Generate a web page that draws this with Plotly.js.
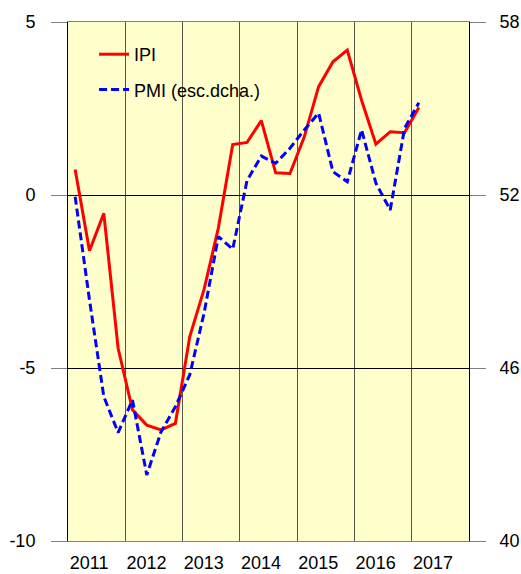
<!DOCTYPE html>
<html>
<head>
<meta charset="utf-8">
<script src="https://cdn.plot.ly/plotly-3.0.1.min.js"></script>
<style>html,body{margin:0;padding:0;background:#fff;}#chart{width:521px;height:574px;}</style>
</head>
<body>
<div id="chart"></div>
<script>
// Quarterly periods (2011-T1 ... 2017-T1)
var years = [2011, 2012, 2013, 2014, 2015, 2016, 2017];
var quarters = ['2011-T1','2011-T2','2011-T3','2011-T4',
                '2012-T1','2012-T2','2012-T3','2012-T4',
                '2013-T1','2013-T2','2013-T3','2013-T4',
                '2014-T1','2014-T2','2014-T3','2014-T4',
                '2015-T1','2015-T2','2015-T3','2015-T4',
                '2016-T1','2016-T2','2016-T3','2016-T4',
                '2017-T1'];
// IPI (left axis)
var ipi = [0.74, -1.61, -0.53, -4.43,
           -6.21, -6.65, -6.79, -6.60,
           -4.10, -2.73, -0.95, 1.46,
           1.52, 2.15, 0.64, 0.62,
           1.68, 3.13, 3.85, 4.19,
           2.74, 1.47, 1.83, 1.80,
           2.53];
// PMI (right axis)
var pmi = [51.94, 48.36, 45.01, 43.76,
           44.89, 42.29, 43.79, 44.66,
           45.76, 47.9, 50.56, 50.12,
           52.50, 53.35, 53.10, 53.62,
           54.26, 54.84, 52.81, 52.46,
           54.26, 52.41, 51.48, 54.31,
           55.20];
var yearLabels = ['2011','2012','2013','2014','2015','2016','2017'];
var leftTicks = [-10, -5, 0, 5];
var leftTickText = ['-10', '-5', '0', '5'];
var rightTicks = [40, 46, 52, 58];
var rightTickText = ['40', '46', '52', '58'];

function qx(q) {
  var p = q.split('-T');
  return +p[0] + (+p[1] - 0.5) / 4;
}
var xs = quarters.map(qx);

var font = 'Arial, "Liberation Sans", sans-serif';

var traces = [
  {x: xs, y: ipi, name: 'IPI', type: 'scatter', mode: 'lines',
   line: {color: '#FF0000', width: 3}, legendgroup: 'a', yaxis: 'y'},
  {x: xs, y: pmi, name: 'PMI (esc.dcha.)', type: 'scatter', mode: 'lines',
   line: {color: '#0000FF', width: 3, dash: '8px,4px'}, legendgroup: 'b', yaxis: 'y2'}
];

var layout = {
  width: 521, height: 574,
  margin: {l: 68, r: 52, t: 22, b: 33},
  paper_bgcolor: '#FFFFFF',
  plot_bgcolor: '#FFFFCC',
  font: {family: font, size: 18, color: '#000'},
  showlegend: true,
  legend: {x: 0.065, y: 0.973, xanchor: 'left', yanchor: 'top',
           bgcolor: 'rgba(0,0,0,0)', borderwidth: 0,
           font: {family: font, size: 18, color: '#000'},
           traceorder: 'grouped', tracegroupgap: 9},
  xaxis: {
    range: [2011, 2018],
    tickmode: 'array',
    tickvals: years.map(function(y){return y + 0.37;}),
    ticktext: yearLabels,
    showgrid: false, zeroline: false,
    ticks: 'outside', ticklen: 5, tickcolor: 'rgba(0,0,0,0)',
    showline: true, linecolor: '#808080', linewidth: 1, mirror: true,
    minor: {tickmode: 'array', tickvals: years.slice(1), showgrid: true,
            gridcolor: '#55554a', gridwidth: 1, ticks: ''},
    tickfont: {family: font, size: 18, color: '#000'},
    fixedrange: true
  },
  yaxis: {
    range: [-10, 5], tickmode: 'array', tickvals: leftTicks, ticktext: leftTickText,
    showgrid: true, gridcolor: '#000', gridwidth: 1, zeroline: false,
    ticks: 'outside', ticklen: 16, tickcolor: '#808080', tickwidth: 1,
    ticklabelstandoff: 12,
    showline: true, linecolor: '#000', linewidth: 1,
    tickfont: {family: font, size: 18, color: '#000'},
    fixedrange: true
  },
  yaxis2: {
    range: [40, 58], tickmode: 'array', tickvals: rightTicks, ticktext: rightTickText,
    overlaying: 'y', side: 'right',
    showgrid: false, zeroline: false,
    ticks: 'outside', ticklen: 16, tickcolor: '#808080', tickwidth: 1,
    ticklabelstandoff: 10,
    showline: true, linecolor: '#000', linewidth: 1,
    tickfont: {family: font, size: 18, color: '#000'},
    fixedrange: true
  }
};

Plotly.newPlot('chart', traces, layout, {displayModeBar: false, staticPlot: true});
</script>
</body>
</html>
